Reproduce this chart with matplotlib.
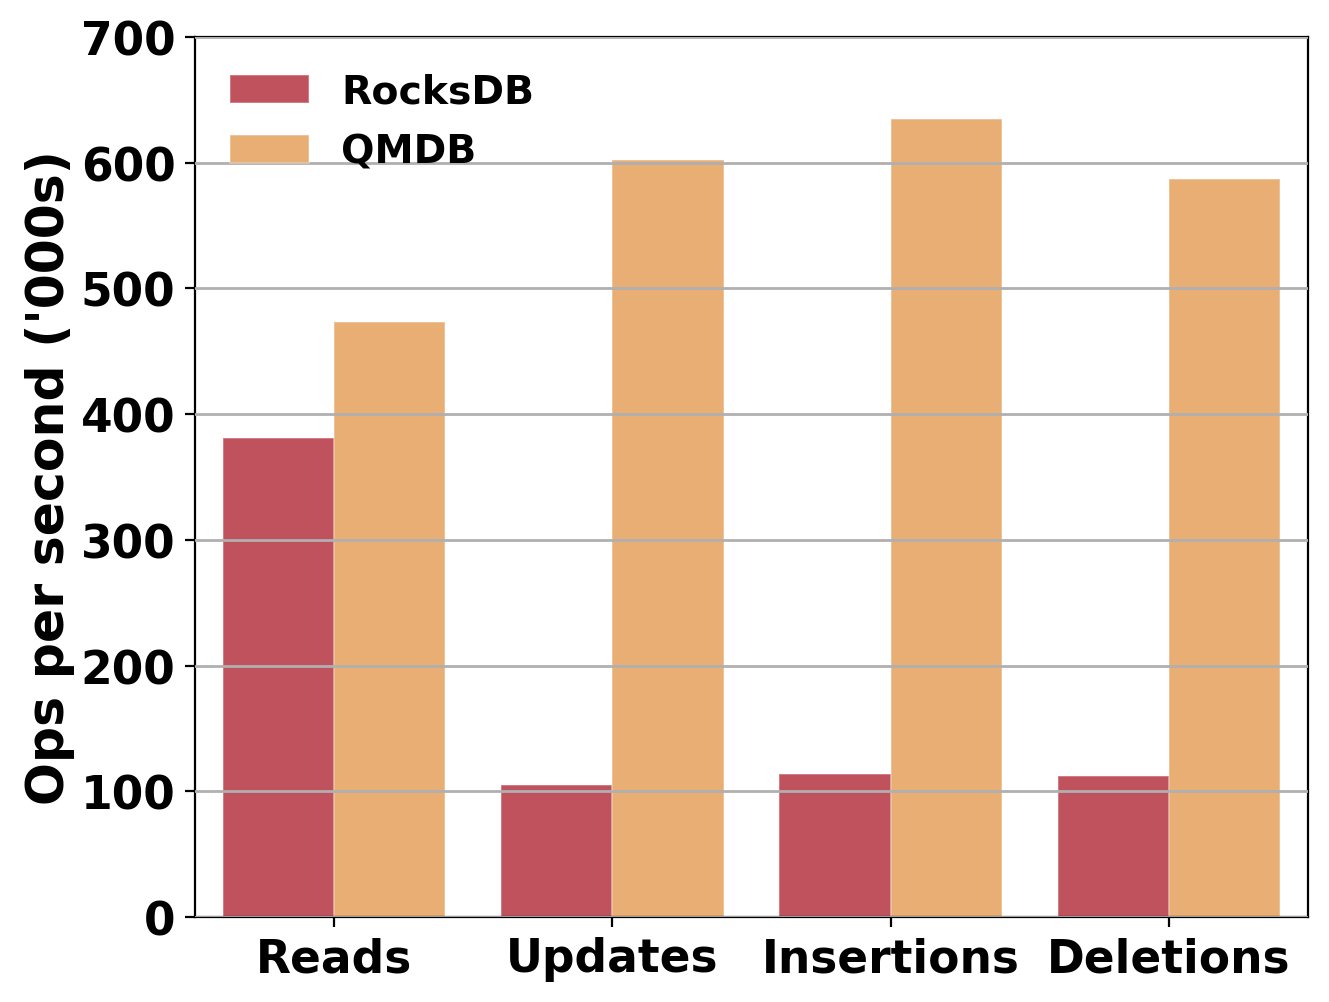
import numpy as np
import matplotlib
matplotlib.use("Agg")
import matplotlib.pyplot as plt

# throughput, thousands of ops per second
ops = ["Reads", "Updates", "Insertions", "Deletions"]
rocksdb = [381, 105, 114, 112]
qmdb = [473, 602, 635, 587]

series = [("RocksDB", rocksdb, "#c0525e"), ("QMDB", qmdb, "#e9ae74")]

plt.rcParams["font.weight"] = "bold"
plt.rcParams["axes.labelweight"] = "bold"

fig = plt.figure(figsize=(6.645, 5.015), dpi=200)
ax = fig.add_axes([0.1467, 0.0847, 0.8375, 0.8774])

x = np.arange(len(ops))
w = 0.4
for i, (lab, vals, col) in enumerate(series):
    ax.bar(x + (i - 0.5) * w, vals, width=w, color=col, label=lab,
           edgecolor=(1, 1, 1, 0.3), linewidth=0.6, zorder=1)

ax.set_xlim(-0.5, 3.5)
ax.set_ylim(0, 700)
ax.set_xticks(x)
ax.set_xticklabels(ops)
ax.set_yticks(range(0, 701, 100))
ax.tick_params(labelsize=16.4)
ax.yaxis.grid(True, color="#b0b0b0", lw=1, zorder=2)
ax.set_axisbelow(False)
ax.set_ylabel("Ops per second ('000s)", fontsize=18.2, labelpad=2)
ax.legend(frameon=False, fontsize=14.2, loc="upper left",
          handlelength=2.0, borderaxespad=0.5, labelspacing=0.56)

fig.savefig("out.png", dpi=200)
